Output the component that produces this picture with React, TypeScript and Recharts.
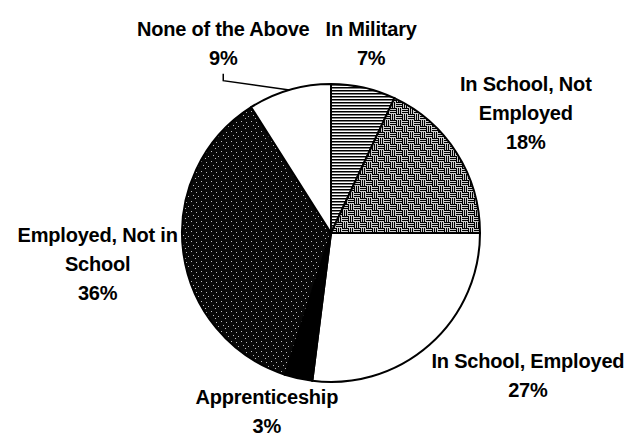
import { PieChart, Pie, Cell } from "recharts"

const categories = [
  "In Military",
  "In School, Not Employed",
  "In School, Employed",
  "Apprenticeship",
  "Employed, Not in School",
  "None of the Above",
]
const shares = [7, 18, 27, 3, 36, 9]
const labelLines = [
  ["In Military"],
  ["In School, Not", "Employed"],
  ["In School, Employed"],
  ["Apprenticeship"],
  ["Employed, Not in", "School"],
  ["None of the Above"],
]

const data = categories.map((name, i) => ({ name, value: shares[i] }))

const fills = [
  "url(#hLines)",
  "url(#weave)",
  "#ffffff",
  "#000000",
  "url(#stipple)",
  "#ffffff",
]

// hand placed like the original (offsets from a point just outside each slice)
const nudges = [
  [-5, 13],
  [20, -9],
  [60, -13],
  [-19, -24],
  [-28, 5],
  [-50, 9],
]

const RAD = Math.PI / 180
const LINE_H = 29

function renderLabel(props: any) {
  const { cx, cy, midAngle, outerRadius, index, value } = props
  const r = outerRadius + 58
  const bx = cx + r * Math.cos(-midAngle * RAD) + nudges[index][0]
  const by = cy + r * Math.sin(-midAngle * RAD) + nudges[index][1]
  const lines = [...labelLines[index], `${value}%`]
  const top = by - ((lines.length - 1) * LINE_H) / 2
  let leader = null
  if (index === 5) {
    const ex = cx + outerRadius * Math.cos(-midAngle * RAD)
    const ey = cy + outerRadius * Math.sin(-midAngle * RAD)
    const ly = top + LINE_H + 16
    leader = (
      <polyline
        points={`${bx},${ly} ${bx},${ly + 7} ${ex},${ey}`}
        fill="none"
        stroke="#000"
        strokeWidth={1.5}
      />
    )
  }
  return (
    <g>
      {leader}
      <text
        x={bx}
        y={top + 7}
        textAnchor="middle"
        fontFamily="'Liberation Sans', Arial, sans-serif"
        fontWeight="bold"
        fontSize={20}
        letterSpacing={-0.2}
        fill="#000"
      >
        {lines.map((l, i) => (
          <tspan key={i} x={bx} dy={i === 0 ? 0 : LINE_H}>
            {l}
          </tspan>
        ))}
      </text>
    </g>
  )
}

export default function App() {
  return (
    <div style={{ width: 626, height: 438, background: "#fff" }}>
      <style>{`body{margin:0}`}</style>
      <PieChart width={626} height={438}>
        <defs>
          <pattern id="hLines" width="4" height="3" patternUnits="userSpaceOnUse">
            <rect width="4" height="3" fill="#fff" />
            <rect width="4" height="1.5" fill="#000" />
          </pattern>
          <pattern id="weave" width="12" height="12" patternUnits="userSpaceOnUse">
            <rect width="12" height="12" fill="#fff" />
            <rect x="0" y="0" width="1.2" height="6" fill="#000" />
            <rect x="2" y="0" width="1.2" height="6" fill="#000" />
            <rect x="4" y="0" width="1.2" height="6" fill="#000" />
            <rect x="6" y="6" width="1.2" height="6" fill="#000" />
            <rect x="8" y="6" width="1.2" height="6" fill="#000" />
            <rect x="10" y="6" width="1.2" height="6" fill="#000" />
            <rect x="6" y="0" width="6" height="1.2" fill="#000" />
            <rect x="6" y="2" width="6" height="1.2" fill="#000" />
            <rect x="6" y="4" width="6" height="1.2" fill="#000" />
            <rect x="0" y="6" width="6" height="1.2" fill="#000" />
            <rect x="0" y="8" width="6" height="1.2" fill="#000" />
            <rect x="0" y="10" width="6" height="1.2" fill="#000" />
          </pattern>
          <pattern id="stipple" width="10" height="10" patternUnits="userSpaceOnUse">
            <rect width="10" height="10" fill="#080808" />
            <rect x="1" y="1" width="1" height="1" fill="#bbb" />
            <rect x="6" y="2" width="1" height="1" fill="#bbb" />
            <rect x="3" y="5" width="1" height="1" fill="#bbb" />
            <rect x="8" y="6" width="1" height="1" fill="#bbb" />
            <rect x="5" y="8" width="1" height="1" fill="#bbb" />
          </pattern>
        </defs>
        <Pie
          data={data}
          dataKey="value"
          nameKey="name"
          cx={326}
          cy={228}
          outerRadius={149}
          startAngle={90}
          endAngle={-270}
          stroke="#000"
          strokeWidth={2}
          label={renderLabel}
          labelLine={false}
          isAnimationActive={false}
        >
          {data.map((d, i) => (
            <Cell key={d.name} fill={fills[i]} />
          ))}
        </Pie>
      </PieChart>
    </div>
  )
}
